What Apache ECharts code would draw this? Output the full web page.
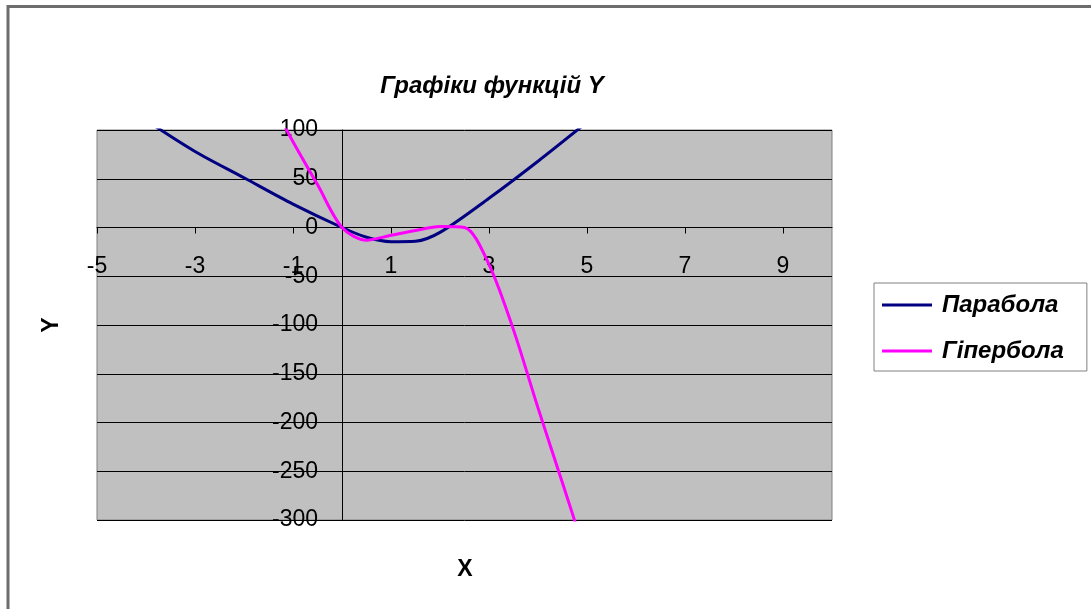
<!DOCTYPE html>
<html>
<head>
<meta charset="utf-8">
<script src="https://cdn.jsdelivr.net/npm/echarts@6/dist/echarts.min.js"></script>
<style>
html,body{margin:0;padding:0;background:#fff;}
#chart{width:1091px;height:609px;}
</style>
</head>
<body>
<div id="chart"></div>
<script>
const titleText = 'Графіки функцій Y';
const seriesNames = ['Парабола', 'Гіпербола'];
const xTickLabels = [-5, -3, -1, 1, 3, 5, 7, 9];
const parabolaX = [-4, -3, -2, -1, 0, 0.5, 1, 1.5, 2, 3, 4, 5];
const parabolaY = [110, 78, 51, 24, 0, -10, -14.5, -14, -5, 30, 68, 108];
const hyperbolaX = [-1.5, -1, -0.5, 0, 0.5, 1, 1.5, 2, 2.5, 3, 3.5, 4, 4.5, 5];
const hyperbolaY = [135, 88, 44, 0, -13, -8, -3, 1, 0, -38, -105, -185, -262, -340];

const FONT = "'Liberation Sans', Arial, sans-serif";
const GRID = {left: 97, right: 259, top: 130, bottom: 89};
const X_MIN = -5, X_MAX = 10, Y_MIN = -300, Y_MAX = 100;
const chart = echarts.init(document.getElementById('chart'), null, {renderer: 'canvas'});

function pairs(xs, ys) { return xs.map((x, i) => [x, ys[i]]); }

// offsets that move each axis from the grid edge onto the other axis' zero
const plotW = 1091 - GRID.left - GRID.right;
const plotH = 609 - GRID.top - GRID.bottom;
const xAxisOffset = -plotH * (0 - Y_MIN) / (Y_MAX - Y_MIN);
const yAxisOffset = -plotW * (0 - X_MIN) / (X_MAX - X_MIN);

chart.setOption({
  animation: false,
  backgroundColor: '#ffffff',
  title: {
    text: titleText,
    left: 487,
    top: 69,
    textAlign: 'center',
    textStyle: {fontFamily: FONT, fontSize: 24, fontWeight: 'bold', fontStyle: 'italic', color: '#000'}
  },
  grid: Object.assign({show: true, backgroundColor: '#c0c0c0', borderColor: '#808080', borderWidth: 1}, GRID),
  legend: {
    orient: 'vertical',
    left: 874, top: 283,
    data: seriesNames,
    icon: 'rect',
    itemWidth: 50, itemHeight: 3,
    itemGap: 22,
    padding: [10, 23, 8, 8],
    borderColor: '#808080', borderWidth: 1,
    backgroundColor: '#fff',
    textStyle: {fontFamily: FONT, fontSize: 24, fontWeight: 'bold', fontStyle: 'italic', color: '#000', padding: [0, 0, 0, 5]}
  },
  xAxis: {
    type: 'value', min: X_MIN, max: X_MAX, position: 'bottom', offset: xAxisOffset,
    axisLine: {onZero: false, lineStyle: {color: '#000', width: 1}},
    axisTick: {show: true, length: 6, customValues: xTickLabels, lineStyle: {color: '#000'}},
    axisLabel: {customValues: xTickLabels, margin: 28, fontFamily: FONT, fontSize: 23, color: '#000'},
    splitLine: {show: false},
    minorSplitLine: {show: false},
    splitArea: {show: false}
  },
  yAxis: {
    type: 'value', min: Y_MIN, max: Y_MAX, interval: 50, position: 'left', offset: yAxisOffset,
    axisLine: {onZero: false, lineStyle: {color: '#000', width: 1}},
    axisTick: {show: true, length: 6, lineStyle: {color: '#000'}},
    axisLabel: {margin: 24, fontFamily: FONT, fontSize: 23, color: '#000'},
    splitLine: {show: true, lineStyle: {color: '#000', width: 1}},
    minorSplitLine: {show: false},
    splitArea: {show: false}
  },
  graphic: [
    {type: 'rect', shape: {x: 8, y: 6.5, width: 2000, height: 2000}, style: {fill: 'none', stroke: '#6d6d6d', lineWidth: 3}, silent: true},
    {type: 'text', x: 52, y: 325, rotation: Math.PI / 2,
     style: {text: 'Y', font: "bold 23px 'Liberation Sans', Arial, sans-serif", fill: '#000', align: 'center', verticalAlign: 'middle'}},
    {type: 'text', x: 465, y: 570,
     style: {text: 'X', font: "bold 23px 'Liberation Sans', Arial, sans-serif", fill: '#000', align: 'center', verticalAlign: 'middle'}}
  ],
  series: [
    {name: seriesNames[0], type: 'line', data: pairs(parabolaX, parabolaY), smooth: 0.3,
     showSymbol: false, clip: true, color: '#000080', lineStyle: {color: '#000080', width: 3}},
    {name: seriesNames[1], type: 'line', data: pairs(hyperbolaX, hyperbolaY), smooth: 0.3,
     showSymbol: false, clip: true, color: '#ff00ff', lineStyle: {color: '#ff00ff', width: 3}}
  ]
});
</script>
</body>
</html>
